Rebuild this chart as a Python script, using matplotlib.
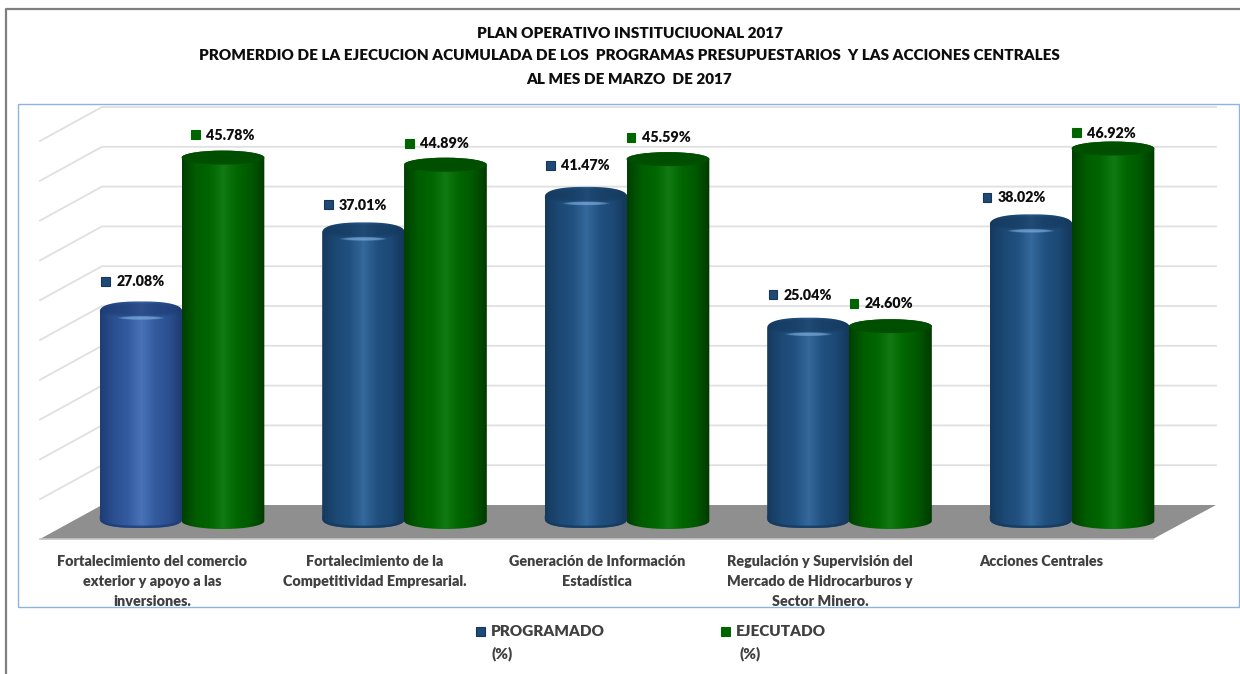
import numpy as np
import matplotlib
matplotlib.use('Agg')
from matplotlib import pyplot as plt
from matplotlib.colors import LinearSegmentedColormap
from matplotlib.patches import Polygon, Rectangle, Ellipse
from matplotlib.lines import Line2D

plt.rcParams['font.family'] = ['Lato', 'DejaVu Sans']

W, H = 1240, 674

title_lines = ['PLAN OPERATIVO INSTITUCIUONAL 2017',
               'PROMERDIO DE LA EJECUCION ACUMULADA DE LOS  PROGRAMAS PRESUPUESTARIOS  Y LAS ACCIONES CENTRALES',
               'AL MES DE MARZO  DE 2017']
categories = [['Fortalecimiento del comercio', 'exterior y apoyo a las', 'inversiones.'],
              ['Fortalecimiento de la', 'Competitividad Empresarial.'],
              ['Generación de Información', 'Estadística'],
              ['Regulación y Supervisión del', 'Mercado de Hidrocarburos y', 'Sector Minero.'],
              ['Acciones Centrales']]
programado = [27.08, 37.01, 41.47, 25.04, 38.02]
ejecutado = [45.78, 44.89, 45.59, 24.60, 46.92]
grid_values = [5, 10, 15, 20, 25, 30, 35, 40, 45, 50]

# posiciones a mano, las etiquetas no siguen la altura de la barra
label_pos_prog = [(117, 281), (339, 205), (561, 165), (784, 294), (998, 197)]
label_pos_ejec = [(206, 134), (420, 143), (642, 137), (865, 303), (1087, 132)]
cat_label_x = [152, 375, 597, 820, 1041]

# escala: categoria 0 en x=182 px, valor 0 en y=521 px
X0, XS = 182, 222.5
Y0, YS = 521, 7.96
HW = 0.186
OFF = 0.184
DY_BACK = 16 / YS
DY_FRONT = -18 / YS
FRONT_L, BACK_L = (40 - X0) / XS, (102 - X0) / XS
FRONT_R, BACK_R = (1153 - X0) / XS, (1216 - X0) / XS

GREEN = ['#003f00', '#005c00', '#006600', '#127a12', '#006600', '#005800', '#003a00']
BLUE = ['#163a5e', '#1c4874', '#215180', '#35689b', '#215180', '#1c4874', '#143658']
BLUE_1 = ['#1f3d75', '#2b4f90', '#335b9f', '#4a72b6', '#335b9f', '#2b4f90', '#1d3a70']
WEIGHT = 800


def fx(x):
    return x / W


def fy(y):
    return 1 - y / H


def grad(stops):
    return LinearSegmentedColormap.from_list('g', stops)


def body_outline(x, v, n_top, hh_top, top_drop, n_bot, hh_bot, bot_rise):
    t = np.linspace(0, np.pi, 60)
    # tapa de izquierda a derecha, luego base de derecha a izquierda
    xt = x - HW * np.sign(np.cos(t)) * np.abs(np.cos(t)) ** (2 / n_top)
    yt = (v - top_drop) + hh_top * np.sin(t) ** (2 / n_top)
    xb = x + HW * np.sign(np.cos(t)) * np.abs(np.cos(t)) ** (2 / n_bot)
    yb = bot_rise - hh_bot * np.sin(t) ** (2 / n_bot)
    return np.column_stack([np.r_[xt, xb], np.r_[yt, yb]])


def soft_ellipse(ax, x, y, w, h, color, alpha, z, clip):
    # varias elipses superpuestas para difuminar el borde
    for k, s in enumerate([1.25, 1.12, 1.0, 0.85]):
        e = Ellipse((x, y), w * s, h * s, fc=color, ec='none', alpha=alpha, zorder=z + k * 0.01)
        ax.add_patch(e)
        e.set_clip_path(clip)


def cylinder(ax, x, v, stops, green, z):
    if green:
        pts = body_outline(x, v, 2, 7 / YS, 1 / YS, 2, 8 / YS, 0)
    else:
        pts = body_outline(x, v, 2.5, 11 / YS, 7 / YS, 2.6, 10 / YS, 3 / YS)
    clip = Polygon(pts, closed=True, transform=ax.transData, fc='none', ec='none')
    ax.add_patch(clip)
    lo, hi = pts[:, 1].min(), pts[:, 1].max()
    im = ax.imshow(np.linspace(0, 1, 256).reshape(1, -1), cmap=grad(stops), aspect='auto',
                   extent=(x - HW, x + HW, lo, hi), interpolation='bilinear', zorder=z)
    im.set_clip_path(clip)
    if green:
        ax.add_patch(Ellipse((x, v - 1 / YS), 2 * HW, 14 / YS, fc='#004f00', ec='none', zorder=z + 0.1))
    else:
        soft_ellipse(ax, x, v - 4 / YS, 1.75 * HW, 13 / YS, stops[0], 0.22, z + 0.1, clip)
        soft_ellipse(ax, x, v - 12.5 / YS, 0.9 * HW, 3 / YS, '#7fb0e0', 0.25, z + 0.2, clip)
        # aro oscuro de la base
        n = len(pts) // 2
        base, = ax.plot(pts[n:, 0], pts[n:, 1], color=stops[0], lw=3.5, alpha=0.8, zorder=z + 0.05)
        base.set_clip_path(clip)


def marker(fig, x, y, color, edge):
    fig.add_artist(Rectangle((fx(x), fy(y + 4.5)), 9 / W, 9 / H, transform=fig.transFigure,
                             fc=color, ec=edge, lw=0.8))


fig = plt.figure(figsize=(W / 100, H / 100), dpi=100)
ax = fig.add_axes([0, 0, 1, 1])
ax.axis('off')

# marcos
fig.add_artist(Line2D([fx(5.5), fx(5.5), fx(W)], [fy(H), fy(9), fy(9)], color='#7f7f7f', lw=1.6))
fig.add_artist(Rectangle((fx(18), fy(606.5)), (W - 19) / W, 502.5 / H, transform=fig.transFigure,
                         fc='none', ec='#8db3de', lw=1.0))

# piso y lineas de la pared
ax.add_patch(Polygon([(FRONT_L, DY_FRONT), (BACK_L, DY_BACK), (BACK_R, DY_BACK), (FRONT_R, DY_FRONT)],
                     closed=True, fc='#8f8f8f', ec='none', zorder=1))
ax.plot([FRONT_L, FRONT_R], [DY_FRONT, DY_FRONT], color='#c4c4c4', lw=1.2, zorder=1.1)
for g in grid_values:
    ax.plot([FRONT_L, BACK_L, BACK_R], [g + DY_FRONT, g + DY_BACK, g + DY_BACK],
            color='#e0e0e0', lw=1.3, zorder=0.5, solid_joinstyle='miter')

for i, (p, e) in enumerate(zip(programado, ejecutado)):
    cylinder(ax, i - OFF, p, BLUE_1 if i == 0 else BLUE, False, 3 + i)
    cylinder(ax, i + OFF, e, GREEN, True, 3.5 + i)

ax.set_xlim(-X0 / XS, (W - X0) / XS)
ax.set_ylim((Y0 - H) / YS, Y0 / YS)

# titulo
for s, y in zip(title_lines, [33.5, 55.5, 80]):
    fig.text(fx(629.5), fy(y), s, ha='center', va='center', fontsize=11, fontweight=WEIGHT, color='#0d0d0d')

# etiquetas de datos
for vals, pos, col, edge in [(programado, label_pos_prog, '#1f4a75', '#16365a'),
                             (ejecutado, label_pos_ejec, '#006400', '#006400')]:
    for v, (tx, ty) in zip(vals, pos):
        marker(fig, tx - 15.5, ty, col, edge)
        fig.text(fx(tx), fy(ty + 1), '%.2f%%' % v, ha='left', va='center', fontsize=10.3,
                 fontweight=WEIGHT, color='#0d0d0d')

# categorias
for lines, x in zip(categories, cat_label_x):
    for j, s in enumerate(lines):
        fig.text(fx(x), fy(561 + 20.5 * j), s, ha='center', va='center', fontsize=10.4,
                 fontweight=WEIGHT, color='#404040')

# leyenda
marker(fig, 476, 631, '#1f4a75', '#16365a')
marker(fig, 721, 631, '#006400', '#006400')
fig.text(fx(491), fy(631), 'PROGRAMADO', ha='left', va='center', fontsize=11, fontweight=WEIGHT, color='#404040')
fig.text(fx(491), fy(654), '(%)', ha='left', va='center', fontsize=11, fontweight=WEIGHT, color='#404040')
fig.text(fx(736), fy(631), 'EJECUTADO', ha='left', va='center', fontsize=11, fontweight=WEIGHT, color='#404040')
fig.text(fx(739), fy(654), '(%)', ha='left', va='center', fontsize=11, fontweight=WEIGHT, color='#404040')

plt.savefig('out.png', dpi=100)
